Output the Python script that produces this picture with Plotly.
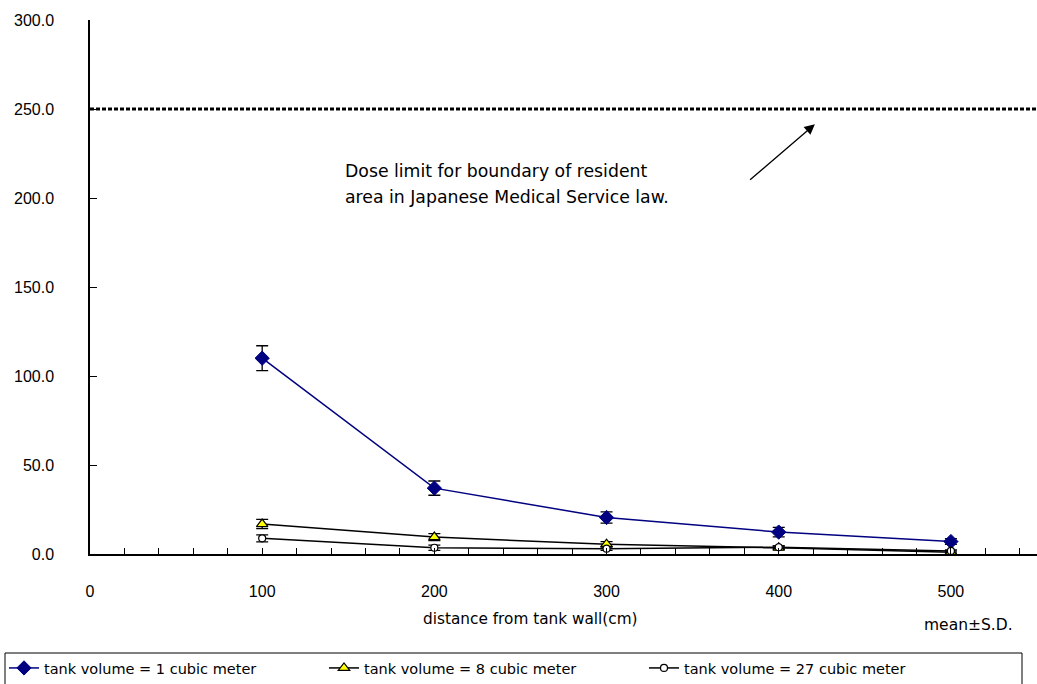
import plotly.graph_objects as go

distance = [100, 200, 300, 400, 500]
vol1_mean = [110.0, 37.0, 20.5, 12.3, 7.0]
vol1_sd = [7.0, 4.0, 3.2, 2.7, 1.6]
vol8_mean = [16.8, 9.5, 5.5, 3.5, 1.0]
vol8_sd = [2.6, 2.0, 1.5, 1.0, 0.8]
vol27_mean = [8.8, 3.5, 3.0, 3.8, 1.7]
vol27_sd = [2.0, 1.5, 1.0, 0.8, 0.6]
names = ["tank volume = 1 cubic meter", "tank volume = 8 cubic meter", "tank volume = 27 cubic meter"]
dose_limit = 250.0
note_lines = ["Dose limit for boundary of resident", "area in Japanese Medical Service law."]
x_title = "distance from tank wall(cm)"
sd_note = "mean±S.D."

TXT = "DejaVu Sans"
NUM = "Liberation Sans"

L, R, T, B = 90, 0, 20, 130
W, H = 1037, 684
PW = W - L - R
PH = H - T - B

fig = go.Figure()

def err(arr):
    return dict(type="data", array=arr, visible=True, color="black", thickness=1.3, width=6)

fig.add_trace(go.Scatter(x=distance, y=vol1_mean, error_y=err(vol1_sd), name=names[0],
                         mode="lines+markers", line=dict(color="#000080", width=1.5),
                         marker=dict(symbol="diamond", size=11, color="#000080",
                                     line=dict(color="#000080", width=1))))
fig.add_trace(go.Scatter(x=distance, y=vol8_mean, error_y=err(vol8_sd), name=names[1],
                         mode="lines+markers", line=dict(color="black", width=1.5),
                         marker=dict(symbol="triangle-up", size=10, color="#FFFF00",
                                     line=dict(color="black", width=1.2))))
fig.add_trace(go.Scatter(x=distance, y=vol27_mean, error_y=err(vol27_sd), name=names[2],
                         mode="lines+markers", line=dict(color="black", width=1.5),
                         marker=dict(symbol="circle", size=7, color="white",
                                     line=dict(color="black", width=1.2))))

fig.add_shape(type="line", xref="x", yref="y", x0=0, x1=550, y0=dose_limit, y1=dose_limit,
              line=dict(color="black", width=3, dash="4px,2px"))

# legend frame (wider than the legend's own content, as in the reference)
fig.add_shape(type="rect", xref="paper", yref="paper",
              x0=(5 - L) / PW, x1=(1022 - L) / PW,
              y0=(554 - 653) / PH, y1=(554 - 692) / PH,
              line=dict(color="black", width=1), fillcolor="rgba(0,0,0,0)", layer="above")

fig.add_annotation(x=421, y=241.5, ax=382.5, ay=209.5, xref="x", yref="y", axref="x", ayref="y",
                   text="", showarrow=True, arrowhead=2, arrowsize=1.6, arrowwidth=1.3,
                   arrowcolor="black")

fig.add_annotation(x=147, y=215.0, xref="x", yref="y", text=note_lines[0], showarrow=False,
                   xanchor="left", yanchor="middle", font=dict(family=TXT, size=17.3, color="black"))
fig.add_annotation(x=147, y=200.5, xref="x", yref="y", text=note_lines[1], showarrow=False,
                   xanchor="left", yanchor="middle", font=dict(family=TXT, size=17.3, color="black"))

fig.add_annotation(x=256, y=(554 - 619) / PH, xref="x", yref="paper", text=x_title,
                   showarrow=False, xanchor="center", yanchor="middle",
                   font=dict(family=TXT, size=15.3, color="black"))
fig.add_annotation(x=510, y=(554 - 625) / PH, xref="x", yref="paper", text=sd_note,
                   showarrow=False, xanchor="center", yanchor="middle",
                   font=dict(family=TXT, size=15.5, color="black"))

fig.update_xaxes(range=[0, 550], tickmode="array", tickvals=[0, 100, 200, 300, 400, 500],
                 ticks="inside", ticklen=6, tickwidth=1.2, tickcolor="black",
                 showline=True, linecolor="black", linewidth=1.5, showgrid=False, zeroline=False,
                 ticklabelstandoff=22, automargin=False,
                 minor=dict(dtick=20, tick0=0, ticks="inside", ticklen=6, tickwidth=1.2,
                            tickcolor="black", showgrid=False),
                 tickfont=dict(family=NUM, size=16, color="black"))
fig.update_yaxes(range=[0, 300], tickmode="array", tickvals=[0, 50, 100, 150, 200, 250, 300],
                 ticktext=["0.0", "50.0", "100.0", "150.0", "200.0", "250.0", "300.0"],
                 ticks="inside", ticklen=7, tickwidth=1.2, tickcolor="black",
                 showline=True, linecolor="black", linewidth=1.5, showgrid=False, zeroline=False,
                 ticklabelstandoff=31, automargin=False,
                 tickfont=dict(family=NUM, size=16, color="black"))

fig.update_layout(
    width=W, height=H,
    margin=dict(l=L, r=R, t=T, b=B, autoexpand=False),
    paper_bgcolor="white", plot_bgcolor="white",
    showlegend=True,
    legend=dict(orientation="h", x=(4 - L) / PW, xanchor="left",
                y=(554 - 652) / PH, yanchor="top",
                borderwidth=0, bgcolor="rgba(0,0,0,0)",
                entrywidth=275, entrywidthmode="pixels", tracegroupgap=0,
                font=dict(family=TXT, size=14.5, color="black")),
)

fig.write_html("out.html", config={"displayModeBar": False},
               post_script="document.body.style.margin='0';document.body.style.overflow='hidden';")
